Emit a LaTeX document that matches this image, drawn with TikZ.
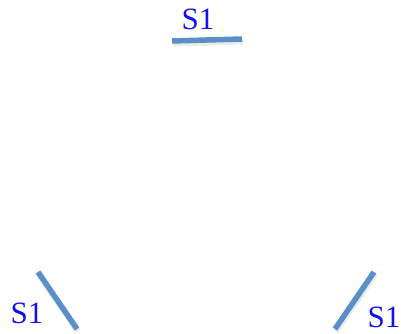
\documentclass[tikz,border=0pt]{standalone}
\usepackage{fontspec}
\newfontfamily\lblfont{Liberation Serif}
\definecolor{segblue}{HTML}{5B8FC7}
\definecolor{lblblue}{HTML}{1010F0}
\begin{document}
\begin{tikzpicture}[x=1pt,y=1pt,
  seg/.style={draw=segblue,line width=5.5pt},
  shadowseg/.style={draw=black,opacity=0.08,line width=6pt},
  lbl/.style={text=lblblue,font=\lblfont\fontsize{31}{31}\selectfont,inner sep=0pt}]
\useasboundingbox (0,0) rectangle (401,334);
% top segment
\coordinate (t1) at (172,293);
\coordinate (t2) at (242,295);
% bottom-left segment
\coordinate (l1) at (38,62);
\coordinate (l2) at (77,5);
% bottom-right segment
\coordinate (r1) at (374,62);
\coordinate (r2) at (335,5);
\draw[shadowseg] ([shift={(1,-2.5)}]t1) -- ([shift={(1,-2.5)}]t2);
\draw[shadowseg] ([shift={(1,-2.5)}]l1) -- ([shift={(1,-2.5)}]l2);
\draw[shadowseg] ([shift={(1,-2.5)}]r1) -- ([shift={(1,-2.5)}]r2);
\draw[seg] (t1) -- (t2);
\draw[seg] (l1) -- (l2);
\draw[seg] (r1) -- (r2);
\node[lbl] (st) at (198,315) {S1};
\node[lbl] (sl) at (27,21) {S1};
\node[lbl] (sr) at (384,16.5) {S1};
\end{tikzpicture}
\end{document}
